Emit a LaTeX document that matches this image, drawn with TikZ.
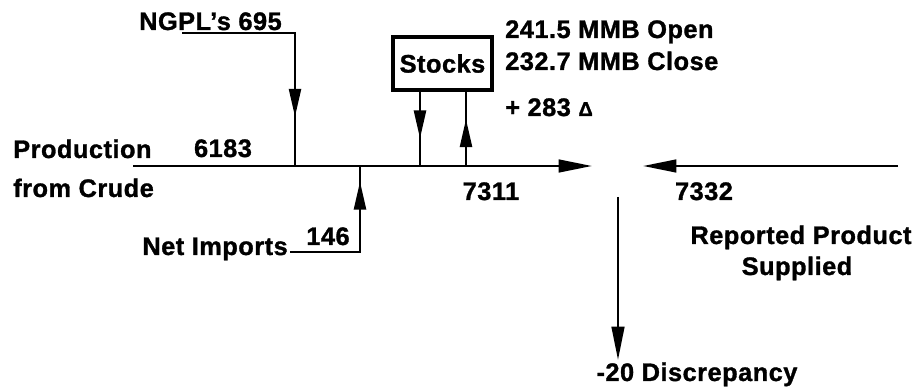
\documentclass[tikz,border=0pt]{standalone}
\usepackage{fontspec}
\setmainfont{Liberation Sans}[LetterSpace=2, BoldFeatures={FakeBold=1.2}]
\usetikzlibrary{arrows.meta,decorations.markings}
\tikzset{
  lbl/.style={inner sep=0pt, font=\bfseries\fontsize{19}{23}\selectfont},
  flow/.style={line width=1.8pt},
  stockbox/.style={draw, line width=2.4pt, rectangle, inner sep=0pt, minimum width=74.25pt, minimum height=39.75pt, font=\bfseries\fontsize{19}{23}\selectfont},
  midarrow/.style={postaction={decorate}, decoration={markings, mark=at position #1 with {\arrow{Triangle[length=21pt,width=9pt]}}}},
  endarrow/.style={-{Triangle[length=25pt,width=9.5pt]}}
}
\begin{document}
\begin{tikzpicture}[x=0.75pt,y=-0.75pt]
\useasboundingbox (0,0) rectangle (915,392);
\node[lbl, anchor=base east] (ngpl) at (282,30) {NGPL’s 695};
\node[stockbox] (stocks) at (442.5,63.5) {Stocks};
\node[lbl, anchor=base west] (open) at (505,38) {241.5 MMB Open};
\node[lbl, anchor=base west] (close) at (505,70) {232.7 MMB Close};
\node[lbl, anchor=base west] (delta) at (505,116) {+ 283 {\fontsize{15}{15}\selectfont Δ}};
\node[lbl, anchor=base west] (prod) at (13,158) {Production};
\node[lbl, anchor=base west] (crude) at (13,197) {from Crude};
\node[lbl, anchor=base] (prodval) at (223,157) {6183};
\node[lbl, anchor=base] (midval) at (491,200) {7311};
\node[lbl, anchor=base] (repval) at (704,200) {7332};
\node[lbl, anchor=base east] (netimp) at (288,255) {Net Imports};
\node[lbl, anchor=base] (netval) at (328,245) {146};
\node[lbl, anchor=base] (rep) at (801,244) {Reported Product};
\node[lbl, anchor=base] (supp) at (797,275) {Supplied};
\node[lbl, anchor=base] (disc) at (697,381) {-20 Discrepancy};

\coordinate (ngplfoot) at (182,33);
\coordinate (ngpljn) at (295,166);
\coordinate (netfoot) at (290,252);
\coordinate (netjn) at (360,166);
\coordinate (sdown) at (420,166);
\coordinate (sup) at (466,166);
\coordinate (prodstart) at (133,166);
\coordinate (mainend) at (592,166);
\coordinate (repstart) at (898,166);
\coordinate (repend) at (643,166);
\coordinate (discstart) at (618,197);
\coordinate (discend) at (618,360);

\draw[flow, endarrow] (prodstart) -- (mainend);
\draw[flow, endarrow] (repstart) -- (repend);
\draw[flow, endarrow] (discstart) -- (discend);
\draw[flow, midarrow=0.8] (ngplfoot) -| (ngpljn);
\draw[flow, midarrow=0.9] (netfoot) -| (netjn);
\draw[flow, midarrow=0.63] (stocks.south -| sdown) -- (sdown);
\draw[flow, midarrow=0.63] (sup) -- (stocks.south -| sup);
\end{tikzpicture}
\end{document}
